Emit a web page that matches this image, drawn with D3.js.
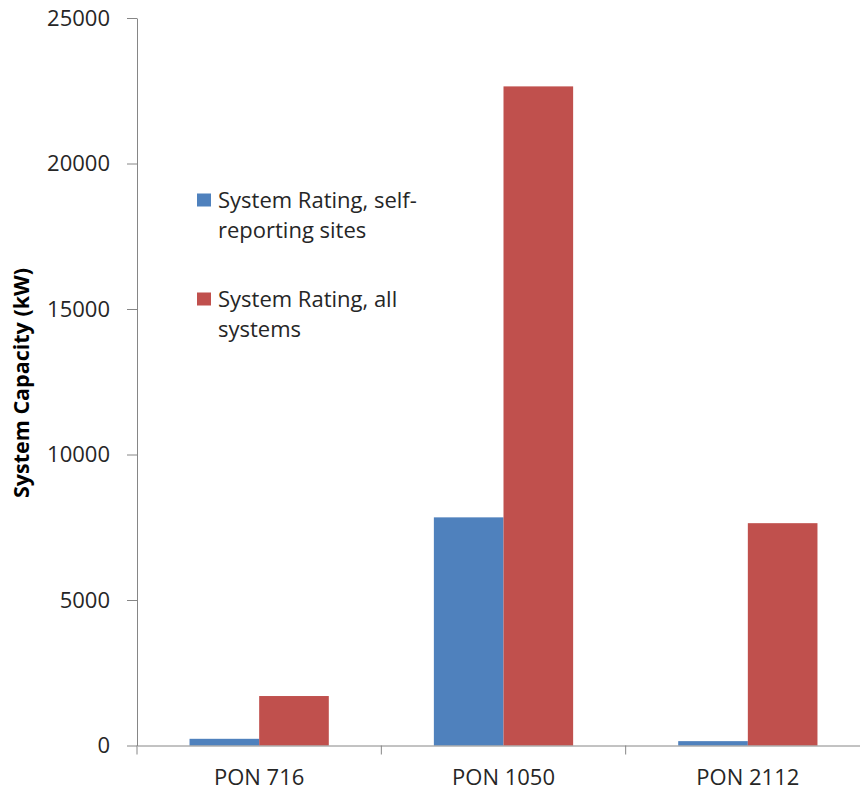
<!DOCTYPE html>
<html>
<head>
<meta charset="utf-8">
<script src="https://cdn.jsdelivr.net/npm/d3@7"></script>
<style>
  html, body { margin: 0; padding: 0; background: #fff; }
  svg { display: block; }
</style>
</head>
<body>
<div id="chart"></div>
<script>
// data
const categories = ["PON 716", "PON 1050", "PON 2112"];
const selfReporting = [230, 7840, 150];
const allSystems = [1700, 22650, 7640];
const seriesNames = ["System Rating, self-reporting sites", "System Rating, all systems"];
const legendLines = [["System Rating, self-", "reporting sites"], ["System Rating, all", "systems"]];
const yTicks = [0, 5000, 10000, 15000, 20000, 25000];
const colors = ["#4F81BD", "#C0504D"];

const width = 860, height = 793;
const font = "'Open Sans', 'DejaVu Sans', sans-serif";
const textColor = "#262626";
const axisColor = "#868686";

const svg = d3.select("#chart")
  .append("svg")
  .attr("width", width)
  .attr("height", height)
  .style("background-color", "#ffffff");

const y = d3.scaleLinear().domain([0, 25000]).range([745.5, 18]);
const x = d3.scaleBand().domain(categories).range([137, 870]).paddingInner(0.43).paddingOuter(0.215);
const xs = d3.scaleBand().domain([0, 1]).range([0, x.bandwidth()]);

// bars
const series = [selfReporting, allSystems];
series.forEach((vals, s) => {
  svg.append("g")
    .selectAll("rect")
    .data(vals)
    .enter()
    .append("rect")
    .attr("x", (d, i) => x(categories[i]) + xs(s))
    .attr("y", (d) => y(d))
    .attr("width", xs.bandwidth())
    .attr("height", (d) => y(0) - y(d))
    .attr("fill", colors[s]);
});

// y axis
const yAxis = svg.append("g")
  .attr("transform", "translate(137,0)")
  .call(d3.axisLeft(y).tickValues(yTicks).tickFormat(d3.format("d")).tickSize(10).tickPadding(17).tickSizeOuter(0));
yAxis.select(".domain").attr("stroke", axisColor);
yAxis.selectAll(".tick line").attr("stroke", axisColor);
yAxis.selectAll(".tick text")
  .attr("fill", textColor)
  .style("font-family", font)
  .style("font-size", "22px");

// x axis
const xAxis = svg.append("g")
  .attr("transform", `translate(0,${y(0)})`)
  .call(d3.axisBottom(x).tickSize(0).tickPadding(24).tickSizeOuter(0));
xAxis.select(".domain").attr("stroke", axisColor);
xAxis.selectAll(".tick text")
  .attr("fill", textColor)
  .style("font-family", font)
  .style("font-size", "22px");

// category boundary ticks
const bounds = categories.map((c) => x(c) - x.step() * x.paddingInner() / 2).concat([870]);
svg.append("g")
  .selectAll("line")
  .data(bounds)
  .enter()
  .append("line")
  .attr("x1", (d) => d)
  .attr("x2", (d) => d)
  .attr("y1", y(0))
  .attr("y2", y(0) + 9)
  .attr("stroke", axisColor);

// y axis title
svg.append("text")
  .attr("transform", "translate(29,383) rotate(-90)")
  .attr("text-anchor", "middle")
  .attr("fill", "#000")
  .style("font-family", font)
  .style("font-weight", "bold")
  .style("font-size", "21.5px")
  .text("System Capacity (kW)");

// legend
const legend = svg.append("g").attr("class", "legend");
seriesNames.forEach((name, i) => {
  const base = 207.5 + i * 99;
  legend.append("rect")
    .attr("x", 197)
    .attr("y", base - 14)
    .attr("width", 14)
    .attr("height", 13)
    .attr("fill", colors[i]);
  const t = legend.append("text")
    .attr("x", 218)
    .attr("y", base)
    .attr("fill", textColor)
    .style("font-family", font)
    .style("font-size", "22px");
  legendLines[i].forEach((line, j) => {
    t.append("tspan")
      .attr("x", 218)
      .attr("y", base + j * 30.5)
      .text(line);
  });
});
</script>
</body>
</html>
